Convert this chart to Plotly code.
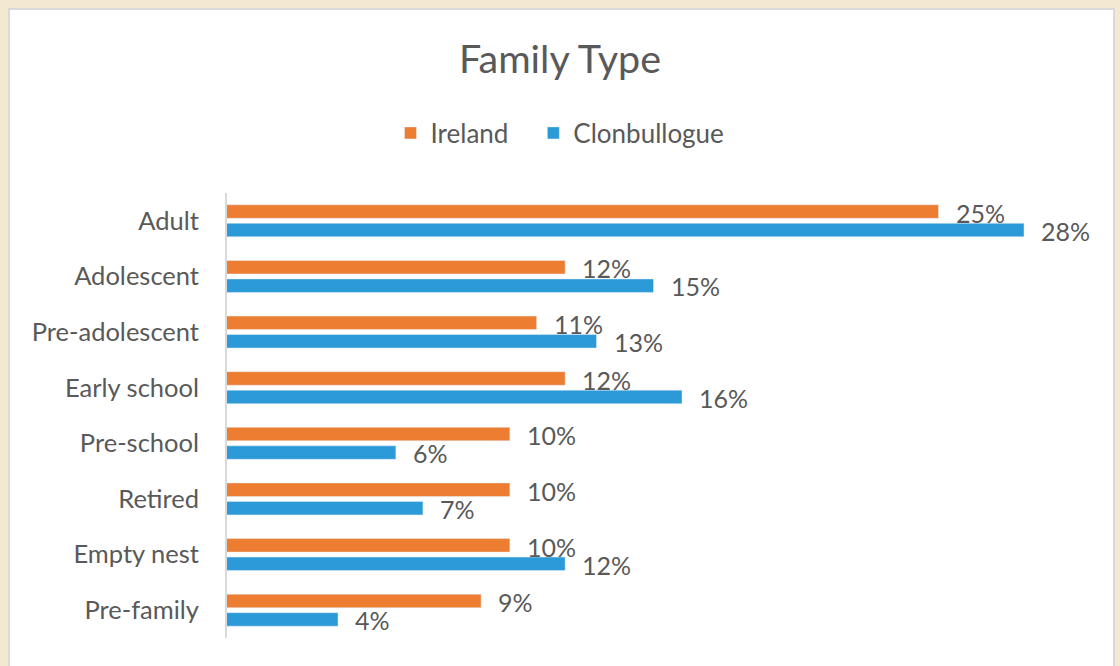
import plotly.graph_objects as go

categories = ["Adult", "Adolescent", "Pre-adolescent", "Early school",
              "Pre-school", "Retired", "Empty nest", "Pre-family"]
ireland = [0.250, 0.119, 0.109, 0.119, 0.0996, 0.0996, 0.0996, 0.0895]
clonbullogue = [0.280, 0.150, 0.130, 0.160, 0.0596, 0.0691, 0.119, 0.0393]
series_names = ["Ireland", "Clonbullogue"]

FONT = "Lato"
GRAY = "#595959"
ORANGE = "#ED7D31"
BLUE = "#2C9AD6"

fig = go.Figure()
fig.add_trace(go.Bar(y=categories, x=ireland, name=series_names[0] + "\u00a0\u00a0\u00a0",
                     orientation="h", marker_color=ORANGE,
                     hovertemplate="%{y}: %{x:.0%}<extra>Ireland</extra>"))
fig.add_trace(go.Bar(y=categories, x=clonbullogue, name=series_names[1], orientation="h",
                     marker_color=BLUE,
                     hovertemplate="%{y}: %{x:.0%}<extra>Clonbullogue</extra>"))

annotations = []
for cat, v in zip(categories, ireland):
    annotations.append(dict(x=v, y=cat, xref="x", yref="y", text=f"{round(v*100):.0f}%",
                            showarrow=False, xanchor="left", yanchor="middle",
                            xshift=15, yshift=8, font=dict(family=FONT, size=25, color=GRAY)))
for cat, v in zip(categories, clonbullogue):
    annotations.append(dict(x=v, y=cat, xref="x", yref="y", text=f"{round(v*100):.0f}%",
                            showarrow=False, xanchor="left", yanchor="middle",
                            xshift=15, yshift=-10, font=dict(family=FONT, size=25, color=GRAY)))

L, R, T, B = 226, 39, 193, 28
W, H = 1120, 666
pw, ph = W - L - R, H - T - B

def px_x(p):
    return (p - L) / pw

def px_y(p):
    return (H - B - p) / ph

fig.update_layout(
    width=W, height=H,
    margin=dict(l=L, r=R, t=T, b=B),
    paper_bgcolor="#F3E9D0",
    plot_bgcolor="white",
    barmode="group",
    bargap=0.335,
    bargroupgap=0.27,
    title=dict(text="Family Type", x=0.5, xref="container", xanchor="center",
               y=1 - 59 / H, yref="container", yanchor="middle",
               font=dict(family=FONT, size=39.5, color=GRAY)),
    legend=dict(orientation="h", xref="container", x=0.5, xanchor="center",
                yref="container", y=1 - 133 / H, yanchor="middle",
                font=dict(family=FONT, size=26, color=GRAY),
                bgcolor="rgba(0,0,0,0)"),
    xaxis=dict(range=[0, 0.30], visible=False, fixedrange=True),
    yaxis=dict(autorange="reversed", showgrid=False, zeroline=False,
               showline=False, ticks="", ticklabelstandoff=26, fixedrange=True,
               tickfont=dict(family=FONT, size=25.5, color=GRAY)),
    annotations=annotations,
    shapes=[
        dict(type="rect", xref="paper", yref="paper", layer="below",
             x0=px_x(9), x1=px_x(1114), y0=px_y(9), y1=px_y(670),
             fillcolor="white", line=dict(color="#D9D9D9", width=2)),
        dict(type="line", xref="paper", yref="paper", layer="above",
             x0=0, x1=0, y0=0, y1=1, line=dict(color="#D9D9D9", width=2)),
    ],
    showlegend=True,
)

fig.write_html("out.html", config={"displayModeBar": False},
               post_script="document.body.style.margin='0';")
